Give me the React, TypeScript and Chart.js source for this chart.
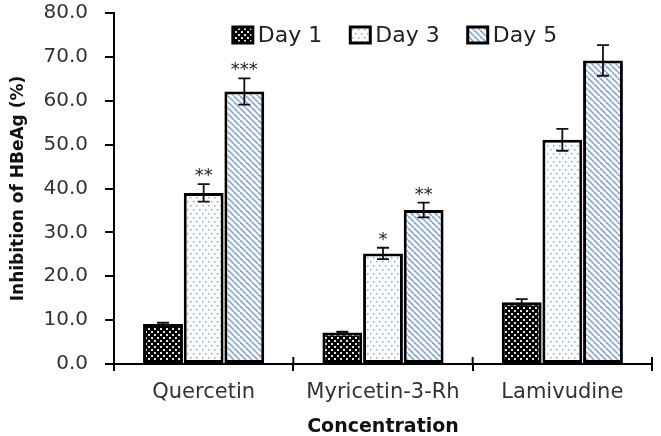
import React, { useEffect, useRef } from "react";
import { Chart, registerables } from "chart.js";

Chart.register(...registerables);

const categories = ["Quercetin", "Myricetin-3-Rh", "Lamivudine"];
const seriesNames = ["Day 1", "Day 3", "Day 5"];
const day1 = [9.1, 7.2, 14.1];
const day3 = [39.0, 25.2, 51.1];
const day5 = [62.1, 35.1, 69.2];
const err1 = [0.3, 0.2, 0.7];
const err3 = [2.0, 1.3, 2.5];
const err5 = [3.0, 1.7, 3.5];
const sig1 = ["", "", ""];
const sig3 = ["**", "*", ""];
const sig5 = ["***", "**", ""];
const yTicks = [0, 10, 20, 30, 40, 50, 60, 70, 80];

const FONT = "'DejaVu Sans', Verdana, sans-serif";

function makePattern(kind: string): CanvasPattern | string {
  const c = document.createElement("canvas");
  const ctx = c.getContext("2d");
  if (!ctx) return "#000";
  if (kind === "d1") {
    c.width = 6; c.height = 6;
    ctx.fillStyle = "#000"; ctx.fillRect(0, 0, 6, 6);
    ctx.fillStyle = "#e0e0e0";
    ctx.fillRect(1, 1, 2, 2);
    ctx.fillRect(4, 4, 2, 2);
  } else if (kind === "d3") {
    c.width = 6; c.height = 8;
    ctx.fillStyle = "#fff"; ctx.fillRect(0, 0, 6, 8);
    ctx.fillStyle = "#8ea8d8";
    ctx.fillRect(1, 1, 1.5, 1.5);
    ctx.fillRect(4, 5, 1.5, 1.5);
  } else {
    c.width = 6; c.height = 6;
    ctx.fillStyle = "#fff"; ctx.fillRect(0, 0, 6, 6);
    ctx.strokeStyle = "#8eaadb";
    ctx.lineWidth = 1.8;
    for (const x0 of [-6, 0, 6]) {
      ctx.beginPath();
      ctx.moveTo(x0, 0);
      ctx.lineTo(x0 + 6, 6);
      ctx.stroke();
    }
  }
  return ctx.createPattern(c, "repeat") || "#000";
}

export default function App() {
  const ref = useRef<HTMLCanvasElement | null>(null);

  useEffect(() => {
    if (!ref.current) return;
    const pats = [makePattern("d1"), makePattern("d3"), makePattern("d5")];
    const errs = [err1, err3, err5];
    const sigs = [sig1, sig3, sig5];

    const extras = {
      id: "extras",
      afterDatasetsDraw(chart: any) {
        const ctx = chart.ctx;
        const y = chart.scales.y;
        ctx.save();
        chart.data.datasets.forEach((ds: any, di: number) => {
          const meta = chart.getDatasetMeta(di);
          meta.data.forEach((bar: any, i: number) => {
            const v = ds.data[i];
            const e = errs[di][i];
            const yt = y.getPixelForValue(v + e);
            const yb = y.getPixelForValue(v - e);
            const x = bar.x;
            ctx.strokeStyle = "#111";
            ctx.lineWidth = 1.8;
            ctx.beginPath();
            ctx.moveTo(x, yt); ctx.lineTo(x, yb);
            ctx.moveTo(x - 6, yt); ctx.lineTo(x + 6, yt);
            ctx.moveTo(x - 6, yb); ctx.lineTo(x + 6, yb);
            ctx.stroke();
            const s = sigs[di][i];
            if (s) {
              ctx.fillStyle = "#222";
              ctx.font = "18px " + FONT;
              ctx.textAlign = "center";
              ctx.textBaseline = "alphabetic";
              ctx.fillText(s, x, yt - 3);
            }
          });
        });
        const xs = chart.scales.x;
        const bottom = chart.chartArea.bottom;
        ctx.strokeStyle = "#000";
        ctx.lineWidth = 2;
        const n = categories.length;
        for (let i = 0; i <= n; i++) {
          const px = xs.left + (xs.width * i) / n;
          ctx.beginPath();
          ctx.moveTo(px, bottom - 7);
          ctx.lineTo(px, bottom);
          ctx.stroke();
        }
        ctx.restore();
      },
      afterDraw(chart: any) {
        const ctx = chart.ctx;
        const ca = chart.chartArea;
        ctx.save();
        ctx.font = "22px " + FONT;
        const boxW = 20, boxH = 16, gap = 5, itemGap = 28;
        const widths = seriesNames.map((n) => boxW + gap + ctx.measureText(n).width);
        const total = widths.reduce((a, b) => a + b, 0) + itemGap * (seriesNames.length - 1);
        let x = (ca.left + ca.right) / 2 + 12 - total / 2;
        const cy = ca.top + 22;
        seriesNames.forEach((n, i) => {
          ctx.fillStyle = pats[i] as any;
          ctx.fillRect(x, cy - boxH / 2, boxW, boxH);
          ctx.strokeStyle = "#000";
          ctx.lineWidth = 3;
          ctx.strokeRect(x, cy - boxH / 2, boxW, boxH);
          ctx.fillStyle = "#222";
          ctx.textAlign = "left";
          ctx.textBaseline = "middle";
          ctx.fillText(n, x + boxW + gap, cy + 1);
          x += widths[i] + itemGap;
        });
        ctx.restore();
      },
    };

    const chart = new Chart(ref.current, {
      type: "bar",
      data: {
        labels: categories,
        datasets: [day1, day3, day5].map((d, i) => ({
          label: seriesNames[i],
          data: d,
          backgroundColor: pats[i] as any,
          borderColor: "#000",
          borderWidth: 3,
          borderSkipped: false,
          categoryPercentage: 0.68,
          barPercentage: 0.98,
        })),
      },
      options: {
        animation: false,
        responsive: false,
        maintainAspectRatio: false,
        layout: { padding: { top: 0, right: 9, left: 0, bottom: 0 } },
        plugins: { legend: { display: false }, tooltip: { enabled: false } },
        scales: {
          x: {
            grid: { drawOnChartArea: false, drawTicks: true, tickLength: 7, color: "#000", lineWidth: 2, offset: true },
            border: { color: "#000", width: 2 },
            ticks: { color: "#333", font: { family: FONT, size: 21 }, padding: 9 },
            title: {
              display: true,
              text: "Concentration",
              color: "#111",
              font: { family: FONT, size: 19, weight: "bold", lineHeight: 1 },
              padding: { top: 0, bottom: -1 },
            },
            afterFit(scale: any) { scale.height = 72; },
          },
          y: {
            min: 0,
            max: 80,
            afterBuildTicks(scale: any) { scale.ticks = yTicks.map((v) => ({ value: v })); },
            grid: { drawOnChartArea: false, drawTicks: true, tickLength: 9, color: "#000", lineWidth: 2 },
            border: { color: "#000", width: 2 },
            ticks: {
              color: "#333",
              font: { family: FONT, size: 20 },
              padding: 17,
              callback: (v: any) => Number(v).toFixed(1),
            },
            title: {
              display: true,
              text: "Inhibition of HBeAg (%)",
              color: "#111",
              font: { family: FONT, size: 17, weight: "bold", lineHeight: 1.2 },
              padding: { top: 8, bottom: 0 },
            },
            afterFit(scale: any) {
              scale.width = 114;
              scale.paddingTop = 13;
              scale.paddingBottom = 0;
            },
          },
        },
      },
      plugins: [extras],
    } as any);
    return () => chart.destroy();
  }, []);

  return (
    <div style={{ position: "absolute", left: 0, top: 0, width: 661, height: 436, background: "#fff" }}>
      <canvas ref={ref} width={661} height={436} style={{ width: 661, height: 436, display: "block" }} />
    </div>
  );
}
